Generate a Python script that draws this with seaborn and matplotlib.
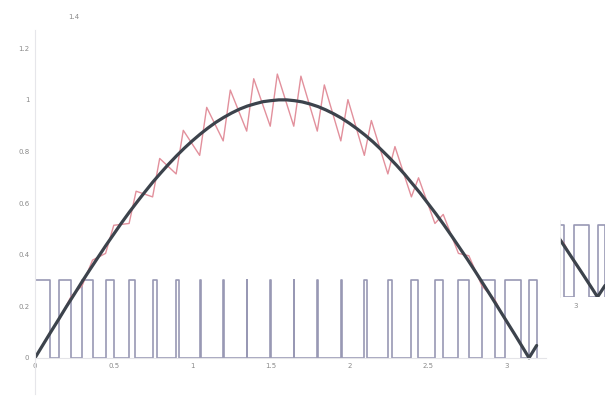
import numpy as np
import pandas as pd
import matplotlib
matplotlib.use("Agg")
import matplotlib.pyplot as plt
import seaborn as sns

# Rectified sine reference (sampled)
sine_x = [0.00, 0.05, 0.10, 0.15, 0.20, 0.25, 0.30, 0.35, 0.40, 0.45, 0.50,
          0.55, 0.60, 0.65, 0.70, 0.75, 0.80, 0.85, 0.90, 0.95, 1.00, 1.05,
          1.10, 1.15, 1.20, 1.25, 1.30, 1.35, 1.40, 1.45, 1.50, 1.55, 1.60,
          1.65, 1.70, 1.75, 1.80, 1.85, 1.90, 1.95, 2.00, 2.05, 2.10, 2.15,
          2.20, 2.25, 2.30, 2.35, 2.40, 2.45, 2.50, 2.55, 2.60, 2.65, 2.70,
          2.75, 2.80, 2.85, 2.90, 2.95, 3.00, 3.05, 3.10, 3.1416, 3.19]
sine_y = [0.000, 0.050, 0.100, 0.149, 0.199, 0.247, 0.296, 0.343, 0.389, 0.435,
          0.479, 0.523, 0.565, 0.605, 0.644, 0.682, 0.717, 0.751, 0.783, 0.813,
          0.841, 0.867, 0.891, 0.913, 0.932, 0.949, 0.964, 0.976, 0.985, 0.993,
          0.997, 1.000, 1.000, 0.997, 0.992, 0.984, 0.974, 0.961, 0.946, 0.929,
          0.909, 0.887, 0.863, 0.837, 0.808, 0.778, 0.746, 0.712, 0.675, 0.638,
          0.598, 0.558, 0.516, 0.472, 0.427, 0.382, 0.335, 0.287, 0.239, 0.190,
          0.141, 0.092, 0.042, 0.000, 0.048]

# PWM gate signal: rising and falling edge times, pulse level
pwm_rise = [0.0, 0.1496, 0.2992, 0.4488, 0.5984, 0.7480, 0.8976, 1.0472, 1.1968,
            1.3464, 1.4960, 1.6456, 1.7952, 1.9448, 2.0944, 2.2440, 2.3936,
            2.5432, 2.6928, 2.8424, 2.9920, 3.1416]
pwm_fall = [0.0969, 0.2310, 0.3657, 0.5012, 0.6378, 0.7760, 0.9158, 1.0576,
            1.2014, 1.3504, 1.5000, 1.6496, 1.7998, 1.9552, 2.1126, 2.2720,
            2.4330, 2.5956, 2.7593, 2.9238, 3.0889, 3.19]
pwm_level = 0.3

# Inductor current ripple: valley and peak points of each switching period
ripple_valley_x = pwm_rise
ripple_valley_y = [0.000, 0.143, 0.279, 0.405, 0.521, 0.624, 0.713, 0.785, 0.841,
                   0.879, 0.898, 0.898, 0.879, 0.841, 0.785, 0.713, 0.624, 0.521,
                   0.405, 0.279, 0.143, 0.000]
ripple_peak_x = [0.097, 0.231, 0.366, 0.501, 0.643, 0.793, 0.943, 1.092, 1.242,
                 1.391, 1.541, 1.691, 1.840, 1.990, 2.139, 2.289, 2.439, 2.596,
                 2.759, 2.924, 3.089]
ripple_peak_y = [0.100, 0.240, 0.379, 0.514, 0.646, 0.773, 0.882, 0.971, 1.038,
                 1.082, 1.100, 1.092, 1.058, 1.001, 0.920, 0.819, 0.698, 0.556,
                 0.396, 0.226, 0.054]

x_ticks = [0, 0.5, 1, 1.5, 2, 2.5, 3]
x_tick_labels = ["0", "0.5", "1", "1.5", "2", "2.5", "3"]
y_ticks = [0, 0.2, 0.4, 0.6, 0.8, 1.0, 1.2]
y_tick_labels = ["0", "0.2", "0.4", "0.6", "0.8", "1", "1.2"]

# Assemble drawing tables
px, py = [], []
for r, f in zip(pwm_rise, pwm_fall):
    px += [r, r, f, f]
    py += [0.0, pwm_level, pwm_level, 0.0]
pwm = pd.DataFrame({"x": px, "y": py})

rx, ry = [], []
for i, (vx, vy) in enumerate(zip(ripple_valley_x, ripple_valley_y)):
    rx.append(vx)
    ry.append(vy)
    if i < len(ripple_peak_x):
        rx.append(ripple_peak_x[i])
        ry.append(ripple_peak_y[i])
ripple = pd.DataFrame({"x": rx, "y": ry})
sine = pd.DataFrame({"x": sine_x, "y": sine_y})

sns.set_theme(style="white")
plt.rcParams["font.family"] = ["DejaVu Sans"]

PWM_C = "#9898b4"
RIPPLE_C = "#e2909c"
SINE_C = "#3c434c"
TXT_C = "#8a8a8a"

fig = plt.figure(figsize=(6.15, 3.96), dpi=100)
ax = fig.add_axes([0.0569, 0.005, 0.831, 0.9187])


def draw(a):
    sns.lineplot(data=pwm, x="x", y="y", ax=a, sort=False, estimator=None,
                 color=PWM_C, linewidth=1.2)
    sns.lineplot(data=ripple, x="x", y="y", ax=a, sort=False, estimator=None,
                 color=RIPPLE_C, linewidth=1.0)
    sns.lineplot(data=sine, x="x", y="y", ax=a, sort=False, estimator=None,
                 color=SINE_C, linewidth=2.3, solid_joinstyle="round",
                 solid_capstyle="round")


draw(ax)
ax.set_xlim(0, 3.25)
ax.set_ylim(-0.14, 1.27)
ax.set_xlabel("")
ax.set_ylabel("")
ax.set_xticks(x_ticks)
ax.set_xticklabels(x_tick_labels)
ax.set_yticks(y_ticks)
ax.set_yticklabels(y_tick_labels)
ax.tick_params(axis="both", length=0, labelsize=5, colors=TXT_C, pad=4)
for s in ["top", "right"]:
    ax.spines[s].set_visible(False)
ax.spines["bottom"].set_position(("data", 0))
ax.spines["bottom"].set_color("#e4e4e8")
ax.spines["bottom"].set_linewidth(0.8)
ax.spines["left"].set_color("#e6e6ea")
ax.spines["left"].set_linewidth(0.8)
ax.set_zorder(1)

fig.text(68 / 615, 1 - 17 / 396, "1.4", fontsize=5, color=TXT_C,
         ha="left", va="center")

# Close-up of the end of the half cycle
ins = fig.add_axes([0.9106, 0.25, 0.0732, 0.194])
draw(ins)
ins.set_xlim(2.90, 3.19)
ins.set_ylim(0, 0.32)
ins.set_xlabel("")
ins.set_ylabel("")
ins.set_xticks([3])
ins.set_xticklabels(["3"])
ins.set_yticks([])
ins.tick_params(axis="x", length=0, labelsize=5, colors=TXT_C, pad=4)
for s in ["top", "right", "bottom"]:
    ins.spines[s].set_visible(False)
ins.spines["left"].set_color("#eeeeee")
ins.spines["left"].set_linewidth(0.6)

fig.savefig("out.png", dpi=100, facecolor="white")
